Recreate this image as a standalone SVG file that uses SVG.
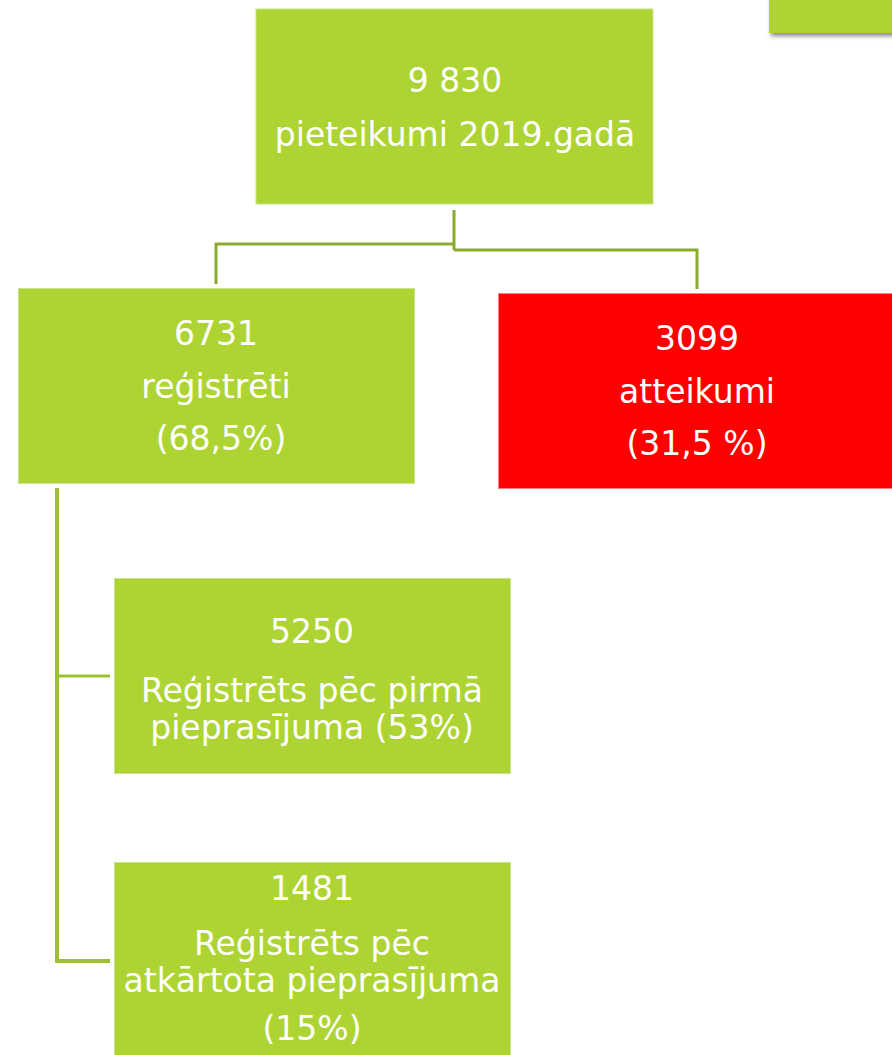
<svg xmlns="http://www.w3.org/2000/svg" width="892" height="1055" viewBox="0 0 892 1055">
<style>
.g{fill:#add433;stroke:#c8e48a;stroke-width:1}
.r{fill:#ff0000;stroke:#ff8080;stroke-width:1}
.t{fill:#ffffff;font-family:"DejaVu Sans",sans-serif;font-size:33px;text-anchor:middle}
.c1{fill:none;stroke:#8aab2f;stroke-width:3}
.c2{fill:none;stroke:#9cc12f;stroke-width:4}
</style>
<defs>
<filter id="sh" x="-20%" y="-50%" width="140%" height="200%">
<feDropShadow dx="2" dy="3" stdDeviation="2" flood-color="#555" flood-opacity="0.7"/>
</filter>
</defs>
<rect width="892" height="1055" fill="#ffffff"/>
<g id="corner">
<rect x="769" y="-5" width="130" height="38" fill="#add433" filter="url(#sh)"/>
</g>
<g id="connectors">
<path class="c1" d="M454,210 V250"/>
<path class="c1" d="M454,244 H216 V284"/>
<path class="c1" d="M454,250 H697 V289"/>
<path class="c2" d="M57,488 V961 H110"/>
<path class="c2" style="stroke-width:3" d="M57,676 H110"/>
</g>
<g id="total">
<rect class="g" x="256" y="9" width="397" height="195"/>
<text class="t" x="455" y="92">9 830</text>
<text class="t" x="455" y="146">pieteikumi 2019.gadā</text>
</g>
<g id="registered">
<rect class="g" x="18.5" y="288.5" width="396" height="195"/>
<text class="t" x="216" y="345">6731</text>
<text class="t" x="216" y="398">reģistrēti</text>
<text class="t" x="221" y="450">(68,5%)</text>
</g>
<g id="refused">
<rect class="r" x="498.5" y="293.5" width="400" height="195"/>
<text class="t" x="697" y="350">3099</text>
<text class="t" x="697" y="403">atteikumi</text>
<text class="t" x="697" y="455">(31,5 %)</text>
</g>
<g id="first">
<rect class="g" x="114.5" y="578.5" width="396" height="195"/>
<text class="t" x="312" y="643">5250</text>
<text class="t" x="312" y="702">Reģistrēts pēc pirmā</text>
<text class="t" x="312" y="739">pieprasījuma (53%)</text>
</g>
<g id="repeat">
<rect class="g" x="114.5" y="862.5" width="396" height="200"/>
<text class="t" x="312" y="900">1481</text>
<text class="t" x="312" y="955">Reģistrēts pēc</text>
<text class="t" x="312" y="992">atkārtota pieprasījuma</text>
<text class="t" x="312" y="1040">(15%)</text>
</g>
</svg>
